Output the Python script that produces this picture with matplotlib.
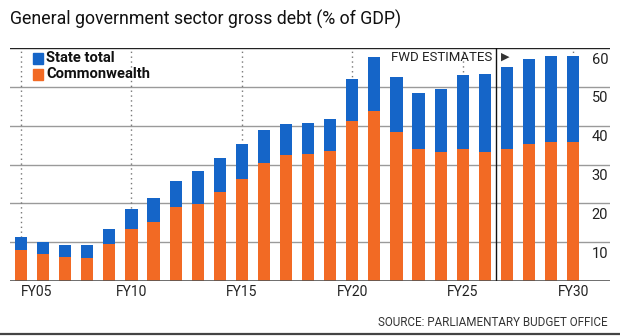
import matplotlib
matplotlib.use("Agg")
import matplotlib.pyplot as plt
import matplotlib.transforms as mtransforms
from matplotlib.patches import Rectangle
from matplotlib.lines import Line2D

# ---- data ----
years = ["FY05", "FY06", "FY07", "FY08", "FY09", "FY10", "FY11", "FY12", "FY13",
         "FY14", "FY15", "FY16", "FY17", "FY18", "FY19", "FY20", "FY21", "FY22",
         "FY23", "FY24", "FY25", "FY26", "FY27", "FY28", "FY29", "FY30"]
commonwealth = [8.0, 6.9, 6.2, 5.9, 9.4, 13.4, 15.3, 19.0, 19.9, 23.0, 26.3, 30.5,
                32.4, 32.8, 33.5, 41.2, 43.9, 38.3, 33.9, 33.2, 33.9, 33.1, 34.1,
                35.4, 35.7, 35.7]
state_total = [3.3, 3.2, 3.1, 3.4, 4.0, 5.1, 6.1, 6.8, 8.3, 8.6, 8.9, 8.5, 8.1,
               7.9, 8.1, 10.8, 13.7, 14.2, 14.6, 16.2, 19.1, 20.2, 20.9, 21.8,
               22.3, 22.3]
y_ticks = [10, 20, 30, 40, 50, 60]
x_label_years = ["FY05", "FY10", "FY15", "FY20", "FY25", "FY30"]
first_estimate = "FY27"

BLUE = "#1565c8"
ORANGE = "#f26a24"
FONT = "Roboto"

W, H = 620, 336
fig = plt.figure(figsize=(W / 100, H / 100), dpi=100)
fig.patch.set_facecolor("white")

def fx(px):
    return px / W

def fy(py):
    return (H - py) / H

ax = fig.add_axes([fx(10), fy(281), fx(600), (281 - 48) / H])
ax.set_xlim(-0.5, 26.67)
ax.set_ylim(0, 60)
for s in ax.spines.values():
    s.set_visible(False)
ax.set_xticks([])
ax.set_yticks([])

x = list(range(len(years)))

# gridlines
for v in y_ticks[:-1]:
    ax.axhline(v, color="#9a9a9a", lw=1.0, zorder=1)
ax.axhline(60, color="#222222", lw=1.0, zorder=1)
ax.axhline(0, color="#555555", lw=1.2, zorder=4)

# dotted verticals at labelled years
for lab in x_label_years:
    i = years.index(lab)
    ax.plot([i, i], [0, 60], color="#777777", lw=1.0, ls=(0, (1, 2.5)), zorder=1)

# bars
ax.bar(x, commonwealth, width=0.55, color=ORANGE, zorder=3)
ax.bar(x, state_total, width=0.55, bottom=commonwealth, color=BLUE, zorder=3)

# forward estimates separator
sep = years.index(first_estimate) - 0.5
ax.plot([sep, sep], [0, 60], color="#111111", lw=1.0, zorder=4)
ax.text(sep - 0.15, 57.6, "FWD ESTIMATES", ha="right", va="center",
        fontsize=9.5, family=FONT, color="#222222")
ax.text(sep + 0.25, 57.8, "\u25B6", ha="left", va="center", fontsize=8,
        family="DejaVu Sans", color="#333333")

# y tick labels (right side, hanging under gridlines)
tr_y = mtransforms.blended_transform_factory(ax.transAxes, ax.transData)
for v in y_ticks:
    ax.text(0.9967, v - 1.2, str(v), transform=tr_y, ha="right", va="top",
            fontsize=10.5, family=FONT, color="#222222")

# x labels
tr_x = mtransforms.blended_transform_factory(ax.transData, ax.transAxes)
for lab in x_label_years:
    i = years.index(lab)
    ax.text(i, -0.047, lab, transform=tr_x, ha="left" if i == 0 else "center",
            va="center", fontsize=10, family=FONT, color="#222222")

# legend
fig.patches.append(Rectangle((fx(33), fy(64)), fx(10), 11 / H, color=BLUE,
                             transform=fig.transFigure, figure=fig))
fig.patches.append(Rectangle((fx(33), fy(80)), fx(10), 11 / H, color=ORANGE,
                             transform=fig.transFigure, figure=fig))
fig.text(fx(46), fy(58.5), "State total", ha="left", va="center",
         fontsize=10.6, fontweight="bold", family=FONT, color="#111111")
fig.text(fx(46), fy(74.5), "Commonwealth", ha="left", va="center",
         fontsize=10.6, fontweight="bold", family=FONT, color="#111111")

# title and source
fig.text(fx(10), fy(19), "General government sector gross debt (% of GDP)",
         ha="left", va="center", fontsize=12.8, family=FONT, color="#111111")
fig.text(fx(608), fy(322), "SOURCE: PARLIAMENTARY BUDGET OFFICE", ha="right",
         va="center", fontsize=8.4, family=FONT, color="#333333")

# bottom rule
fig.lines.append(Line2D([0, 1], [fy(334), fy(334)], color="#444444", lw=1.6,
                        transform=fig.transFigure, figure=fig))

fig.savefig("out.png", dpi=100, facecolor="white")
